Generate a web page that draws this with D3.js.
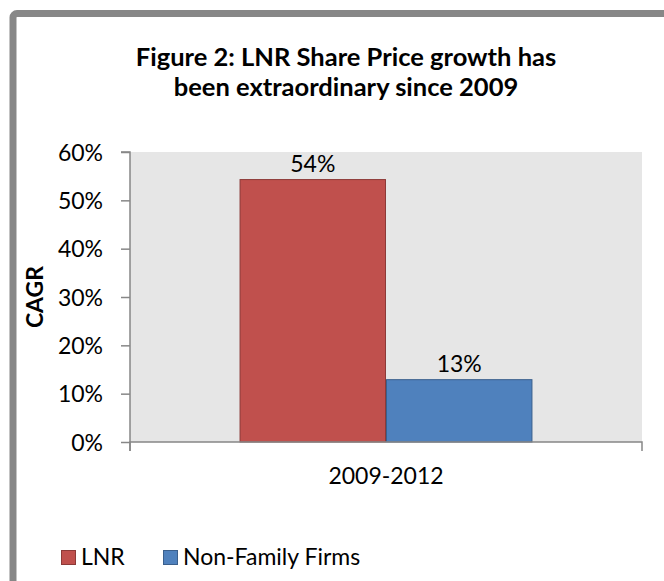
<!DOCTYPE html>
<html>
<head>
<meta charset="utf-8">
<script src="https://cdn.jsdelivr.net/npm/d3@7"></script>
<style>
  html, body { margin: 0; padding: 0; background: #fff; }
  svg { display: block; font-family: Lato, "Open Sans", sans-serif; }
</style>
</head>
<body>
<svg id="chart" width="664" height="581"></svg>
<script>
const titleLines = ["Figure 2: LNR Share Price growth has", "been extraordinary since 2009"];
const categories = ["2009-2012"];
const seriesNames = ["LNR", "Non-Family Firms"];
const seriesColors = ["#c0504d", "#4f81bd"];
const seriesStroke = ["#8c3a38", "#3a5f8c"];
const lnrValues = [0.544];
const nonFamilyValues = [0.130];
const yTicks = [0, 0.1, 0.2, 0.3, 0.4, 0.5, 0.6];
const yAxisTitle = "CAGR";

const svg = d3.select("#chart");
const FS = 23;

// frame
svg.append("rect")
  .attr("x", 13).attr("y", 13.5)
  .attr("width", 700).attr("height", 620)
  .attr("rx", 4)
  .attr("fill", "#fff")
  .attr("stroke", "#878787")
  .attr("stroke-width", 7);

// title
svg.append("text")
  .attr("x", 346).attr("y", 66)
  .attr("text-anchor", "middle")
  .attr("font-weight", "bold")
  .attr("font-size", 25.5)
  .selectAll("tspan")
  .data(titleLines)
  .join("tspan")
  .attr("x", 346)
  .attr("dy", (d, i) => i === 0 ? 0 : 29.5)
  .text(d => d);

const plot = { left: 130, right: 642, top: 152, bottom: 442 };

svg.append("rect")
  .attr("x", plot.left).attr("y", plot.top)
  .attr("width", plot.right - plot.left)
  .attr("height", plot.bottom - plot.top)
  .attr("fill", "#e6e6e6");

const y = d3.scaleLinear().domain([0, 0.6]).range([plot.bottom, plot.top]);
const x0 = d3.scaleBand().domain(categories).range([plot.left, plot.right])
  .paddingInner(0).paddingOuter(0.374);
const x1 = d3.scaleBand().domain(seriesNames).range([0, x0.bandwidth()]).padding(0);

const data = categories.map((c, i) => ({
  cat: c,
  vals: [
    { name: seriesNames[0], v: lnrValues[i], idx: 0 },
    { name: seriesNames[1], v: nonFamilyValues[i], idx: 1 }
  ]
}));

const g = svg.selectAll("g.cat").data(data).join("g")
  .attr("class", "cat")
  .attr("transform", d => `translate(${x0(d.cat)},0)`);

g.selectAll("rect").data(d => d.vals).join("rect")
  .attr("x", d => x1(d.name) + 0.5)
  .attr("y", d => y(d.v) + 0.5)
  .attr("width", x1.bandwidth() - 1)
  .attr("height", d => y(0) - y(d.v) - 0.5)
  .attr("fill", d => seriesColors[d.idx])
  .attr("stroke", d => seriesStroke[d.idx])
  .attr("stroke-width", 1);

g.selectAll("text.lbl").data(d => d.vals).join("text")
  .attr("class", "lbl")
  .attr("x", d => x1(d.name) + x1.bandwidth() / 2)
  .attr("y", d => y(d.v) - 7)
  .attr("text-anchor", "middle")
  .attr("font-size", FS)
  .attr("fill", "#000")
  .text(d => d3.format(".0%")(d.v));

// y axis
const yAxis = d3.axisLeft(y).tickValues(yTicks).tickFormat(d3.format(".0%"))
  .tickSize(9).tickPadding(18);
const yg = svg.append("g").attr("transform", `translate(${plot.left},0)`).call(yAxis);
yg.select(".domain").attr("stroke", "#878787").attr("stroke-width", 1.5)
  .attr("d", `M-9,${plot.top}H0V${plot.bottom + 9}`);
yg.selectAll(".tick line").attr("stroke", "#878787").attr("stroke-width", 1.5);
yg.selectAll(".tick text").attr("font-size", FS).attr("fill", "#000")
  .attr("font-family", "Lato, sans-serif").attr("dy", "0.35em");

// x axis
const xAxis = d3.axisBottom(x0).tickSize(0).tickPadding(0);
const xg = svg.append("g").attr("transform", `translate(0,${plot.bottom})`).call(xAxis);
xg.select(".domain").attr("stroke", "#878787").attr("stroke-width", 1.5)
  .attr("d", `M${plot.left},9V0H${plot.right}V9`);
xg.selectAll(".tick text").attr("font-size", FS).attr("fill", "#000")
  .attr("font-family", "Lato, sans-serif").attr("y", 42).attr("dy", 0);

// y axis title
svg.append("text")
  .attr("transform", `translate(43,${(plot.top + plot.bottom) / 2}) rotate(-90)`)
  .attr("text-anchor", "middle")
  .attr("font-weight", "bold")
  .attr("font-size", FS)
  .text(yAxisTitle);

// legend
const legendX = [61, 163];
const lg = svg.selectAll("g.leg").data(seriesNames).join("g")
  .attr("class", "leg")
  .attr("transform", (d, i) => `translate(${legendX[i]},550)`);
lg.append("rect")
  .attr("x", 0.5).attr("y", 0.5).attr("width", 14).attr("height", 14)
  .attr("fill", (d, i) => seriesColors[i])
  .attr("stroke", (d, i) => seriesStroke[i]);
lg.append("text")
  .attr("x", 20).attr("y", 15)
  .attr("font-size", FS)
  .text(d => d);
</script>
</body>
</html>
